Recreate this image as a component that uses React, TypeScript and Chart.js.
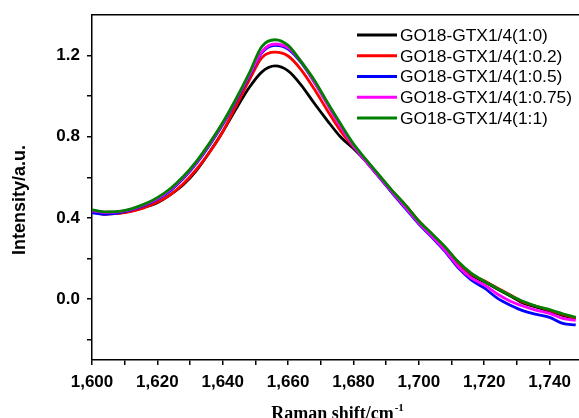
import React, { useEffect, useRef } from 'react';
import { Chart, registerables } from 'chart.js';

Chart.register(...registerables);

const ramanShift = [1600, 1604, 1608, 1612, 1616, 1620, 1624, 1628, 1632, 1636, 1640, 1644, 1648, 1652, 1656, 1660, 1664, 1668, 1672, 1676, 1680, 1684, 1688, 1692, 1696, 1700, 1704, 1708, 1712, 1716, 1720, 1724, 1728, 1732, 1736, 1740, 1744, 1748];

const ratio1_0 = [0.430, 0.422, 0.424, 0.435, 0.452, 0.475, 0.515, 0.565, 0.635, 0.725, 0.825, 0.935, 1.040, 1.120, 1.149, 1.125, 1.055, 0.965, 0.880, 0.800, 0.742, 0.675, 0.600, 0.525, 0.455, 0.375, 0.315, 0.250, 0.180, 0.120, 0.085, 0.050, 0.015, -0.020, -0.040, -0.060, -0.080, -0.095];
const ratio1_02 = [0.432, 0.418, 0.422, 0.432, 0.450, 0.478, 0.515, 0.570, 0.640, 0.725, 0.825, 0.950, 1.075, 1.190, 1.217, 1.198, 1.130, 1.035, 0.930, 0.830, 0.750, 0.680, 0.605, 0.530, 0.462, 0.385, 0.320, 0.255, 0.182, 0.125, 0.090, 0.055, 0.020, -0.015, -0.035, -0.055, -0.075, -0.094];
const ratio1_05 = [0.425, 0.418, 0.425, 0.440, 0.462, 0.492, 0.535, 0.595, 0.670, 0.760, 0.860, 0.975, 1.095, 1.215, 1.250, 1.232, 1.165, 1.070, 0.965, 0.855, 0.755, 0.675, 0.598, 0.520, 0.445, 0.370, 0.305, 0.235, 0.155, 0.095, 0.055, 0.005, -0.030, -0.058, -0.075, -0.090, -0.120, -0.127];
const ratio1_075 = [0.435, 0.428, 0.430, 0.442, 0.465, 0.495, 0.540, 0.600, 0.675, 0.765, 0.865, 0.980, 1.100, 1.220, 1.257, 1.238, 1.170, 1.070, 0.960, 0.850, 0.755, 0.675, 0.600, 0.525, 0.450, 0.375, 0.310, 0.240, 0.162, 0.105, 0.070, 0.025, -0.010, -0.035, -0.055, -0.070, -0.095, -0.105];
const ratio1_1 = [0.440, 0.430, 0.432, 0.445, 0.468, 0.500, 0.545, 0.605, 0.680, 0.770, 0.870, 0.985, 1.110, 1.245, 1.278, 1.250, 1.170, 1.080, 0.970, 0.865, 0.765, 0.685, 0.608, 0.532, 0.462, 0.385, 0.322, 0.258, 0.185, 0.128, 0.088, 0.052, 0.018, -0.012, -0.035, -0.052, -0.072, -0.090];

const seriesLabels = ['GO18-GTX1/4(1:0)', 'GO18-GTX1/4(1:0.2)', 'GO18-GTX1/4(1:0.5)', 'GO18-GTX1/4(1:0.75)', 'GO18-GTX1/4(1:1)'];
const seriesValues = [ratio1_0, ratio1_02, ratio1_05, ratio1_075, ratio1_1];
const seriesColors = ['#000000', '#ff0000', '#0000ff', '#ff00ff', '#008000'];

const xTickValues = [1600, 1610, 1620, 1630, 1640, 1650, 1660, 1670, 1680, 1690, 1700, 1710, 1720, 1730, 1740];
const xLabeledTicks = [1600, 1620, 1640, 1660, 1680, 1700, 1720, 1740];
const yTickValues = [-0.2, 0, 0.2, 0.4, 0.6, 0.8, 1.0, 1.2];
const yLabeledTicks = [0, 0.4, 0.8, 1.2];

const xTitle = 'Raman shift/cm';
const xTitleSup = '-1';
const yTitle = 'Intensity/a.u.';

const W = 579;
const H = 418;

export default function App() {
  const ref = useRef<HTMLCanvasElement | null>(null);

  useEffect(() => {
    if (!ref.current) return;
    const sansBold = '"Liberation Sans", Arial, sans-serif';

    const overlay = {
      id: 'overlay',
      afterDraw(chart: any) {
        const ctx = chart.ctx;
        ctx.save();
        // legend
        const lx0 = 357, lx1 = 397, tx = 400, ly0 = 35, dy = 20.75;
        chart.data.datasets.forEach((ds: any, i: number) => {
          const y = ly0 + i * dy;
          ctx.strokeStyle = ds.borderColor;
          ctx.lineWidth = 3;
          ctx.beginPath();
          ctx.moveTo(lx0, y);
          ctx.lineTo(lx1, y);
          ctx.stroke();
          ctx.fillStyle = '#000';
          ctx.font = '17.4px "Liberation Sans", Arial, sans-serif';
          ctx.textBaseline = 'middle';
          ctx.textAlign = 'left';
          ctx.fillText(ds.label, tx, y + 1);
        });
        // y title
        ctx.save();
        ctx.translate(20, 200);
        ctx.rotate(-Math.PI / 2);
        ctx.font = 'bold 18px ' + sansBold;
        ctx.textAlign = 'center';
        ctx.textBaseline = 'middle';
        ctx.fillStyle = '#000';
        ctx.fillText(yTitle, 0, 0);
        ctx.restore();
        // x title
        ctx.font = 'bold 18px "Liberation Serif", "Times New Roman", serif';
        const w1 = ctx.measureText(xTitle).width;
        ctx.font = 'bold 11px "Liberation Serif", "Times New Roman", serif';
        const w2 = ctx.measureText(xTitleSup).width;
        const startX = 337 - (w1 + w2) / 2;
        ctx.textAlign = 'left';
        ctx.textBaseline = 'alphabetic';
        ctx.font = 'bold 18px "Liberation Serif", "Times New Roman", serif';
        ctx.fillText(xTitle, startX, 419);
        ctx.font = 'bold 11px "Liberation Serif", "Times New Roman", serif';
        ctx.fillText(xTitleSup, startX + w1 + 1, 411);
        ctx.restore();
      },
    };

    const chart = new Chart(ref.current, {
      type: 'line',
      data: {
        datasets: seriesValues.map((vals, i) => ({
          label: seriesLabels[i],
          data: ramanShift.map((x, j) => ({ x, y: vals[j] })),
          borderColor: seriesColors[i],
          backgroundColor: seriesColors[i],
          borderWidth: 2.8,
          pointRadius: 0,
          fill: false,
          cubicInterpolationMode: 'monotone' as const,
          order: seriesValues.length - i,
        })),
      },
      options: {
        responsive: false,
        animation: false,
        devicePixelRatio: 1,
        layout: { padding: { top: 15, left: 0, right: 0, bottom: 0 } },
        plugins: {
          legend: { display: false },
          tooltip: { enabled: false },
          title: { display: false },
        },
        scales: {
          x: {
            type: 'linear',
            position: 'bottom',
            min: 1600,
            max: 1749,
            afterBuildTicks: (s: any) => {
              s.ticks = xTickValues.map((v) => ({ value: v }));
            },
            afterFit: (s: any) => {
              s.height = H - 360;
              s.paddingLeft = 0;
              s.paddingRight = 0;
            },
            grid: {
              drawOnChartArea: false,
              drawTicks: true,
              tickLength: 5,
              color: '#000',
              lineWidth: 1.5,
            },
            border: { display: true, color: '#000', width: 1.5 },
            ticks: {
              autoSkip: false,
              maxRotation: 0,
              padding: 7,
              color: '#000',
              font: { family: sansBold, size: 17, weight: 'bold' },
              callback: (v: any) => (xLabeledTicks.includes(Number(v)) ? Number(v).toLocaleString('en-US') : ''),
            },
          },
          x2: {
            type: 'linear',
            position: 'top',
            min: 1600,
            max: 1749,
            afterFit: (s: any) => {
              s.height = 0;
              s.paddingLeft = 0;
              s.paddingRight = 0;
            },
            grid: { display: false, drawTicks: false },
            border: { display: true, color: '#000', width: 1.5 },
            ticks: { display: false },
          },
          y: {
            type: 'linear',
            position: 'left',
            min: -0.3,
            max: 1.4,
            afterBuildTicks: (s: any) => {
              s.ticks = yTickValues.map((v) => ({ value: v }));
            },
            afterFit: (s: any) => {
              s.width = 92;
              s.paddingTop = 0;
              s.paddingBottom = 0;
            },
            grid: {
              drawOnChartArea: false,
              drawTicks: true,
              tickLength: 5,
              color: '#000',
              lineWidth: 1.5,
            },
            border: { display: true, color: '#000', width: 1.5 },
            ticks: {
              autoSkip: false,
              padding: 7,
              color: '#000',
              font: { family: sansBold, size: 17, weight: 'bold' },
              callback: (v: any) => {
                const n = Math.round(Number(v) * 10) / 10;
                return yLabeledTicks.some((t) => Math.abs(t - n) < 1e-6) ? n.toFixed(1) : '';
              },
            },
          },
        },
      },
      plugins: [overlay],
    } as any);

    return () => chart.destroy();
  }, []);

  return (
    <div style={{ position: 'fixed', left: 0, top: 0, width: W, height: H, background: '#fff' }}>
      <canvas ref={ref} width={W} height={H} style={{ display: 'block', width: W, height: H }} />
    </div>
  );
}
